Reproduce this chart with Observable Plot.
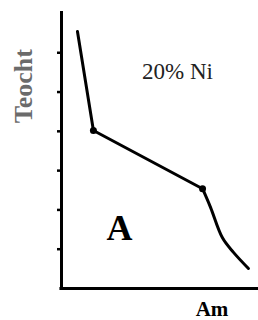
<!DOCTYPE html>
<html>
<head>
<meta charset="utf-8">
<script src="https://cdn.jsdelivr.net/npm/d3@7"></script>
<script src="https://cdn.jsdelivr.net/npm/@observablehq/plot@0.6"></script>
<style>
  html, body { margin: 0; padding: 0; background: #fff; }
</style>
</head>
<body>
<div id="chart"></div>
<script>
// Cooling curve (temperature vs. time) for a 20% Ni alloy
const lineX = [0.81, 1.62, 7.16];
const lineY = [6.54, 4.02, 2.54];
const tailX = [7.16, 7.57, 8.17, 8.73, 9.49];
const tailY = [2.54, 2.06, 1.29, 0.92, 0.51];
const kinkX = [1.62, 7.16];
const kinkY = [4.02, 2.54];
const yTicks = [1, 2, 3, 4, 5, 6];
const yLabel = "Teocht";
const xLabel = "Am";
const alloyLabel = "20% Ni";
const phaseLabel = "A";

const line = lineX.map((x, i) => ({x, y: lineY[i]}));
const tail = tailX.map((x, i) => ({x, y: tailY[i]}));
const kinks = kinkX.map((x, i) => ({x, y: kinkY[i]}));

const font = "Liberation Serif";

const chart = Plot.plot({
  width: 258,
  height: 320,
  marginLeft: 61,
  marginRight: 0,
  marginTop: 11,
  marginBottom: 32,
  style: {fontFamily: font, background: "#fff"},
  x: {domain: [0, 10], axis: null},
  y: {domain: [0, 7.05], axis: null},
  marks: [
    Plot.axisY({ticks: yTicks, tickSize: 4, tickFormat: () => "", label: null, strokeWidth: 2.5, stroke: "#000"}),
    Plot.ruleX([0], {stroke: "#000", strokeWidth: 3}),
    Plot.ruleY([0], {stroke: "#000", strokeWidth: 3, x1: -0.08, x2: 10}),
    Plot.line(line, {x: "x", y: "y", stroke: "#000", strokeWidth: 3}),
    Plot.line(tail, {x: "x", y: "y", stroke: "#000", strokeWidth: 3, curve: "catmull-rom"}),
    Plot.dot(kinks, {x: "x", y: "y", r: 3.5, fill: "#000"}),
    Plot.text([alloyLabel], {x: 5.89, y: 5.52, text: d => d, fontFamily: font, fontSize: 23, fill: "#222", textAnchor: "middle", lineAnchor: "middle"}),
    Plot.text([phaseLabel], {x: 2.94, y: 1.53, text: d => d, fontFamily: font, fontSize: 36, fontWeight: "bold", fill: "#000", textAnchor: "middle", lineAnchor: "middle"}),
    Plot.text([xLabel], {x: 7.64, y: 0, dy: 21, text: d => d, fontFamily: font, fontSize: 21, fontWeight: "bold", fill: "#000", textAnchor: "middle", lineAnchor: "middle"}),
    Plot.text([yLabel], {x: 0, y: 5.15, dx: -38, text: d => d, rotate: -90, fontFamily: font, fontSize: 26, fontWeight: "bold", fill: "#6b6b6b", textAnchor: "middle", lineAnchor: "middle"})
  ]
});
document.getElementById("chart").appendChild(chart);
</script>
</body>
</html>
